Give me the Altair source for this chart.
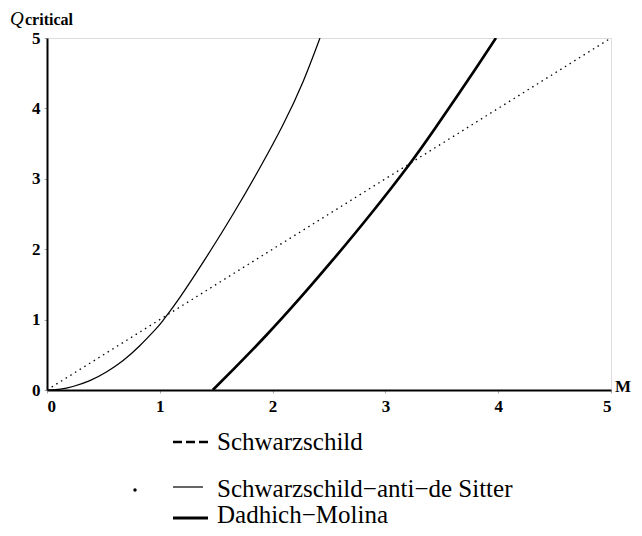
import altair as alt
import pandas as pd

# Schwarzschild (dotted straight line)
sch_M = [0.0, 5.0]
sch_Q = [0.0, 5.0]

# Schwarzschild-anti-de Sitter (thin curve)
sads_M = [0.0, 0.12, 0.23, 0.38, 0.53, 0.675, 0.82, 0.97, 1.03, 1.18, 1.41, 1.65, 1.885, 2.09, 2.27, 2.42]
sads_Q = [0.0, 0.013, 0.05, 0.134, 0.26, 0.42, 0.625, 0.875, 0.99, 1.32, 1.88, 2.50, 3.15, 3.76, 4.38, 5.00]

# Dadhich-Molina (thick curve)
dm_M = [1.47, 1.65, 1.94, 2.24, 2.53, 2.87, 3.21, 3.45, 3.74, 3.98]
dm_Q = [0.00, 0.29, 0.77, 1.30, 1.84, 2.50, 3.20, 3.74, 4.42, 5.00]

tick_vals = [0, 1, 2, 3, 4, 5]
legend_labels = ["Schwarzschild", "Schwarzschild\u2212anti\u2212de Sitter", "Dadhich\u2212Molina"]

SERIF = "Liberation Serif"

df_sch = pd.DataFrame({"M": sch_M, "Q": sch_Q})
df_sads = pd.DataFrame({"M": sads_M, "Q": sads_Q})
df_dm = pd.DataFrame({"M": dm_M, "Q": dm_Q})
one = pd.DataFrame({"k": [0]})

xs = alt.Scale(domain=[0, 5], nice=False, zero=False)
ys = alt.Scale(domain=[0, 5], nice=False, zero=False)

common_axis = dict(
    values=tick_vals, title=None, grid=False, format="d",
    domainColor="black", domainWidth=2,
    tickSize=3, tickColor="#aaaaaa", tickWidth=1,
    labelFont=SERIF, labelFontWeight="bold", labelFontSize=17,
    labelColor="black",
)
x_axis = alt.Axis(labelPadding=5, **common_axis)
y_axis = alt.Axis(labelPadding=4, **common_axis)

sch = alt.Chart(df_sch).mark_line(
    color="black", strokeWidth=1.3, strokeDash=[1.5, 4], clip=True
).encode(
    x=alt.X("M:Q", scale=xs, axis=x_axis),
    y=alt.Y("Q:Q", scale=ys, axis=y_axis),
)

sads = alt.Chart(df_sads).mark_line(
    color="black", strokeWidth=1.25, interpolate="natural", clip=True
).encode(x=alt.X("M:Q", scale=xs), y=alt.Y("Q:Q", scale=ys))

dm = alt.Chart(df_dm).mark_line(
    color="black", strokeWidth=2.7, interpolate="natural", clip=True
).encode(x=alt.X("M:Q", scale=xs), y=alt.Y("Q:Q", scale=ys))

# Axis titles
q_title = alt.Chart(one).mark_text(
    text="Q", font=SERIF, fontStyle="italic", fontSize=19, align="left",
    baseline="alphabetic", color="black"
).encode(x=alt.value(-37), y=alt.value(-13))
crit_title = alt.Chart(one).mark_text(
    text="critical", font=SERIF, fontWeight="bold", fontSize=16, align="left",
    baseline="alphabetic", color="black"
).encode(x=alt.value(-22), y=alt.value(-13))
m_title = alt.Chart(one).mark_text(
    text="M", font=SERIF, fontWeight="bold", fontSize=17, align="left",
    baseline="middle", color="black"
).encode(x=alt.value(568), y=alt.value(349))

# Legend (drawn manually below the plot)
line_y = [404, 449, 480]
text_base = [412, 459, 485]
leg1_line = alt.Chart(one).mark_rule(
    color="black", strokeWidth=2.7, strokeDash=[9, 4]
).encode(x=alt.value(126), x2=alt.value(161), y=alt.value(line_y[0]))
leg2_line = alt.Chart(one).mark_rule(
    color="black", strokeWidth=1.2
).encode(x=alt.value(126), x2=alt.value(156), y=alt.value(line_y[1]))
leg3_line = alt.Chart(one).mark_rule(
    color="black", strokeWidth=3
).encode(x=alt.value(126), x2=alt.value(161), y=alt.value(line_y[2]))
leg_dot = alt.Chart(one).mark_circle(color="black", opacity=1, size=12).encode(
    x=alt.value(88), y=alt.value(line_y[1] + 3)
)
leg_texts = [
    alt.Chart(one).mark_text(
        text=lbl, font=SERIF, fontSize=25, align="left", baseline="alphabetic", color="black"
    ).encode(x=alt.value(170), y=alt.value(yy))
    for lbl, yy in zip(legend_labels, text_base)
]

chart = alt.layer(
    sch, sads, dm, q_title, crit_title, m_title,
    leg1_line, leg2_line, leg3_line, leg_dot, *leg_texts
).properties(
    width=564, height=352,
    autosize=alt.AutoSizeParams(type="none"),
    padding={"left": 39, "top": 30, "right": 23, "bottom": 138},
).configure_view(stroke=None).configure(background="white")

chart.save("out.html", embed_options={"renderer": "svg", "actions": False})
